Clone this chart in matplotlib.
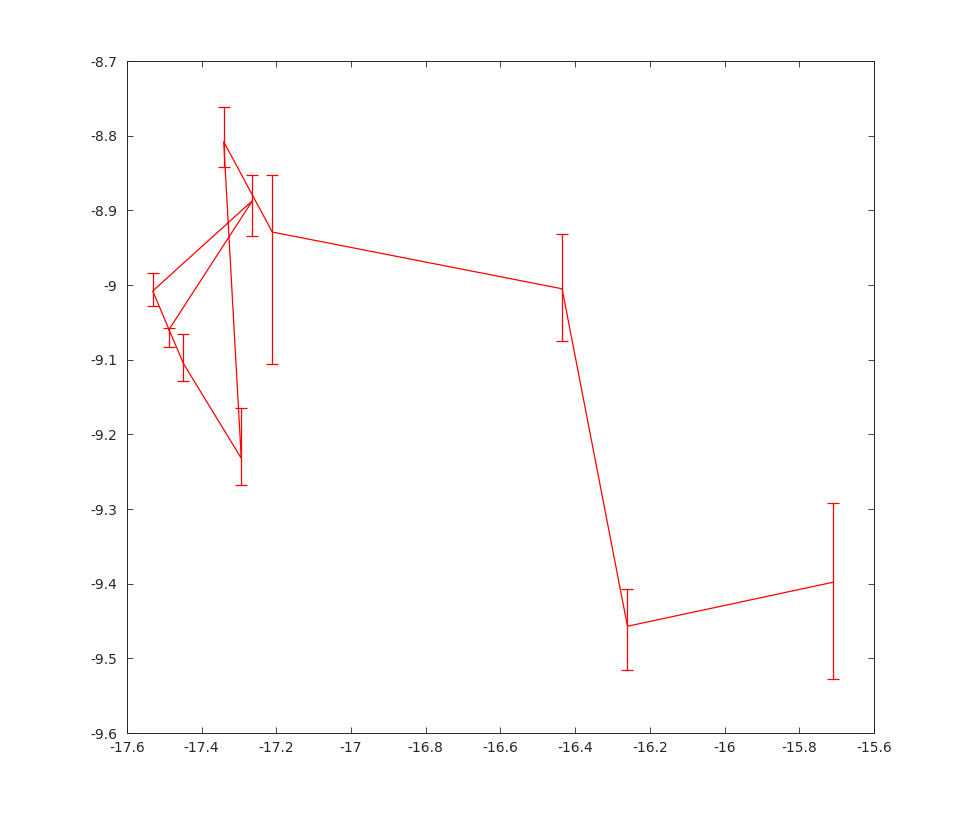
import matplotlib
matplotlib.use("Agg")
import matplotlib.pyplot as plt
import numpy as np

plt.rcParams['axes.unicode_minus'] = False
plt.rcParams['font.family'] = ['DejaVu Sans']

# data in line order
x = [-17.488, -17.264, -17.531, -17.449, -17.294, -17.341, -17.211, -16.435, -16.260, -15.709]
y = [-9.060, -8.887, -9.008, -9.105, -9.232, -8.808, -8.929, -9.005, -9.457, -9.398]
y_top = [-9.058, -8.852, -8.9835, -9.065, -9.165, -8.761, -8.853, -8.931, -9.4075, -9.292]
y_bot = [-9.083, -8.934, -9.0286, -9.129, -9.268, -8.842, -9.106, -9.075, -9.5156, -9.527]

x_ticks = [-17.6, -17.4, -17.2, -17, -16.8, -16.6, -16.4, -16.2, -16, -15.8, -15.6]
y_ticks = [-9.6, -9.5, -9.4, -9.3, -9.2, -9.1, -9, -8.9, -8.8, -8.7]

x = np.array(x); y = np.array(y)
err_lo = y - np.array(y_bot)
err_hi = np.array(y_top) - y

fig = plt.figure(figsize=(9.67, 8.25), dpi=100)
ax = fig.add_axes([0.1313, 0.1115, 0.7725, 0.8145])
ax.errorbar(x, y, yerr=[err_lo, err_hi], color='red', linewidth=0.9,
            elinewidth=0.9, capsize=4.2, capthick=0.9)
ax.set_xlim(-17.6, -15.6)
ax.set_ylim(-9.6, -8.7)
ax.set_xticks(x_ticks)
ax.set_xticklabels([f"{v:g}" for v in x_ticks])
ax.set_yticks(y_ticks)
ax.set_yticklabels([f"{v:g}" for v in y_ticks])
ax.tick_params(direction='in', top=True, right=True, length=4.5, width=0.6,
               labelsize=10, colors='#262626', labelcolor='#262626')
ax.tick_params(axis='y', pad=7)
ax.tick_params(axis='x', pad=6)
for s in ax.spines.values():
    s.set_linewidth(0.7)
    s.set_color('#262626')

fig.savefig('out.png', dpi=100)
